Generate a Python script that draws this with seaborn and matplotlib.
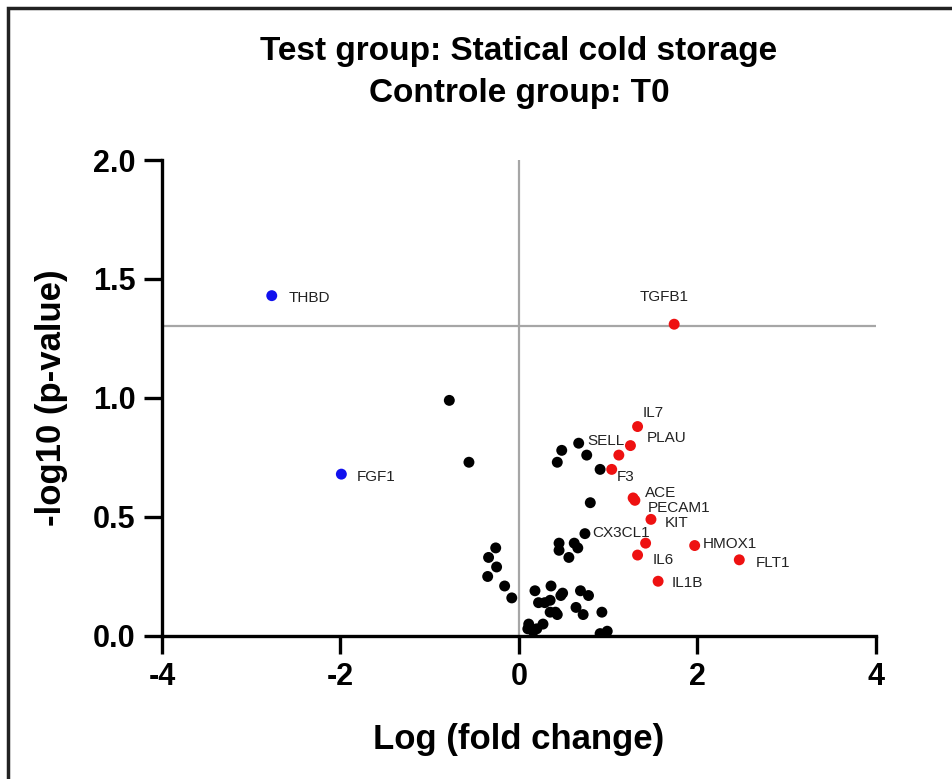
import pandas as pd
import matplotlib
matplotlib.use("Agg")
import matplotlib.pyplot as plt
import seaborn as sns

sns.set_style("white")
plt.rcParams['font.family'] = ['Liberation Sans', 'DejaVu Sans']
plt.rcParams['axes.unicode_minus'] = False
plt.rcParams['text.color'] = 'black'
plt.rcParams['axes.labelcolor'] = 'black'
plt.rcParams['xtick.color'] = 'black'
plt.rcParams['ytick.color'] = 'black'

# DATA
# significant up-regulated genes (red)
up_genes = ['TGFB1', 'IL7', 'PLAU', 'SELL', 'F3', 'ACE', 'PECAM1', 'KIT',
            'CX3CL1', 'IL6', 'HMOX1', 'FLT1', 'IL1B']
up_fc = [1.74, 1.33, 1.25, 1.12, 1.04, 1.28, 1.30, 1.48, 1.42, 1.33, 1.97, 2.47, 1.56]
up_p = [1.31, 0.88, 0.80, 0.76, 0.70, 0.58, 0.57, 0.49, 0.39, 0.34, 0.38, 0.32, 0.23]

# down-regulated genes (blue)
down_genes = ['THBD', 'FGF1']
down_fc = [-2.77, -1.99]
down_p = [1.43, 0.68]

# unchanged genes (black)
ns_fc = [-0.78, -0.56, 0.67, 0.48, 0.43, 0.76, 0.91, 0.80, 0.74, 0.45, 0.45, 0.62,
         0.66, 0.56, -0.26, -0.34, -0.25, -0.35, -0.16, -0.08, 0.18, 0.36, 0.49,
         0.47, 0.22, 0.29, 0.35, 0.69, 0.78, 0.64, 0.72, 0.35, 0.41, 0.43, 0.93,
         0.27, 0.11, 0.10, 0.16, 0.20, 0.91, 0.99]
ns_p = [0.99, 0.73, 0.81, 0.78, 0.73, 0.76, 0.70, 0.56, 0.43, 0.39, 0.36, 0.39,
        0.37, 0.33, 0.37, 0.33, 0.29, 0.25, 0.21, 0.16, 0.19, 0.21, 0.18,
        0.17, 0.14, 0.14, 0.15, 0.19, 0.17, 0.12, 0.09, 0.10, 0.10, 0.09, 0.10,
        0.05, 0.05, 0.03, 0.02, 0.03, 0.01, 0.02]

# label placement: (ha, dx px, dy px)
label_pos = {
    'TGFB1': ('center', -10, 27), 'IL7': ('left', 5, 14), 'PLAU': ('left', 16, 8),
    'SELL': ('right', 6, 14), 'F3': ('left', 5, -8), 'ACE': ('left', 12, 5),
    'PECAM1': ('left', 13, -8), 'KIT': ('left', 14, -4), 'CX3CL1': ('right', 4, 10),
    'IL6': ('left', 15, -5), 'HMOX1': ('left', 8, 2), 'FLT1': ('left', 16, -3),
    'IL1B': ('left', 14, -2), 'THBD': ('left', 17, -2), 'FGF1': ('left', 15, -3),
}

df = pd.concat([
    pd.DataFrame({'gene': '', 'fc': ns_fc, 'p': ns_p, 'group': 'ns'}),
    pd.DataFrame({'gene': up_genes, 'fc': up_fc, 'p': up_p, 'group': 'up'}),
    pd.DataFrame({'gene': down_genes, 'fc': down_fc, 'p': down_p, 'group': 'down'}),
], ignore_index=True)

fig = plt.figure(figsize=(9.53, 7.79), dpi=100)
ax = fig.add_axes([0.170, 0.1836, 0.749, 0.611])

# threshold lines
ax.axhline(1.301, color='#a6a6a6', lw=1.6, zorder=1)
ax.axvline(0, color='#a6a6a6', lw=1.6, zorder=1)

sns.scatterplot(data=df, x='fc', y='p', hue='group',
                palette={'ns': 'black', 'up': '#ee1111', 'down': '#1111ee'},
                s=62, edgecolor='none', legend=False, ax=ax, zorder=3)

for _, row in df[df['gene'] != ''].iterrows():
    ha, dx, dy = label_pos[row['gene']]
    ax.annotate(row['gene'], (row['fc'], row['p']), xytext=(dx, dy),
                textcoords='offset pixels', ha=ha, va='center',
                fontsize=11, color='#222222')

ax.set_xlim(-4, 4)
ax.set_ylim(0, 2.0)
ax.set_xticks([-4, -2, 0, 2, 4])
ax.set_yticks([0.0, 0.5, 1.0, 1.5, 2.0])
ax.set_yticklabels(['0.0', '0.5', '1.0', '1.5', '2.0'])
sns.despine(ax=ax)
for sp in ['left', 'bottom']:
    ax.spines[sp].set_linewidth(2.4)
    ax.spines[sp].set_color('black')
ax.tick_params(axis='both', direction='out', length=13, width=2.4,
               labelsize=22, pad=6, bottom=True, left=True)
for lbl in ax.get_xticklabels() + ax.get_yticklabels():
    lbl.set_fontweight('bold')

ax.set_xlabel('Log (fold change)', fontsize=25, fontweight='bold', labelpad=22)
ax.set_ylabel('-log10 (p-value)', fontsize=25, fontweight='bold', labelpad=18)
ax.set_title('Test group: Statical cold storage\nControle group: T0',
             fontsize=24, fontweight='bold', pad=42, linespacing=1.45)

# frame around the picture
fig.add_artist(plt.Rectangle((8 / 953, -0.05), 1.1, 1 - 8 / 779 + 0.05,
                             transform=fig.transFigure, fill=False,
                             edgecolor='#222222', lw=2.5))

plt.savefig('out.png', dpi=100)
